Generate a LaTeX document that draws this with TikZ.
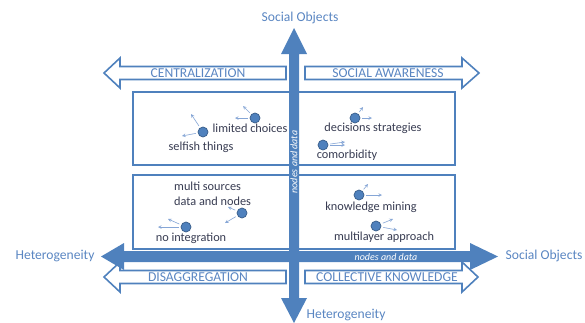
\documentclass[tikz,border=0pt]{standalone}
\usepackage{fontspec}
\setmainfont{Carlito}
\usetikzlibrary{calc}
\definecolor{axisblue}{HTML}{4F81BD}
\definecolor{dotline}{HTML}{385D8A}
\definecolor{labelblue}{HTML}{5A86C2}
\definecolor{itemtext}{HTML}{383C52}
\definecolor{thinblue}{HTML}{86A6D6}
% hollow arrow: (tail x, tip x, head base x, centre y)
\def\hollowarrow(#1,#2,#3,#4){\draw[hollow] (#1,#4-6.5) -- (#3,#4-6.5) -- (#3,#4-15) -- (#2,#4) -- (#3,#4+15) -- (#3,#4+6.5) -- (#1,#4+6.5) -- cycle;}
\tikzset{
  hollow/.style={draw=axisblue, line width=1.6pt, fill=white, line join=miter},
  quadbox/.style={draw=axisblue, line width=1.4pt, fill=white},
  bigarrow/.style={fill=axisblue, draw=none},
  axislabel/.style={text=labelblue, font=\fontsize{13.6}{15}\selectfont, inner sep=0pt},
  caplabel/.style={text=labelblue, font=\fontsize{13.6}{15}\selectfont, inner sep=0pt},
  itemlabel/.style={text=itemtext, font=\fontsize{12.3}{14}\selectfont, inner sep=0pt},
  flowlabel/.style={text=white, font=\fontsize{10}{12}\selectfont\itshape, inner sep=0pt},
  socialdot/.style={circle, fill=axisblue, draw=dotline, line width=0.7pt, minimum size=10pt, inner sep=0pt},
  pull/.style={->, >=stealth, draw=thinblue, line width=0.6pt, shorten <=2pt}
}

\begin{document}
\begin{tikzpicture}[x=1pt, y=-1pt]
			%%%%% START %%%%%
			\useasboundingbox (0,0) rectangle (585,322);
			
			\draw[quadbox] (133, 92) rectangle (455, 165);
			\draw[quadbox] (133, 175) rectangle (455, 249);
			
			\hollowarrow(286,104,120,73)
			\hollowarrow(305,479,462,73)
			\hollowarrow(286,104,120,277)
			\hollowarrow(305,478,462,277)
			
			\fill[bigarrow] (124, 251) -- (470, 251) -- (470, 243) -- (498, 256.5) -- (470, 270) -- (470, 262) -- (124, 262) -- (124, 270) -- (101, 256.5) -- (124, 243) -- cycle;
			\fill[bigarrow] (289, 54) -- (289, 298) -- (281, 298) -- (294, 323) -- (307, 298) -- (299, 298) -- (299, 54) -- (307, 54) -- (294, 28) -- (281, 54) -- cycle;
			
			\node[axislabel] (topobj) at (300, 18) {Social Objects};
			\node[axislabel] (lefthet) at (55, 256) {Heterogeneity};
			\node[axislabel] (rightobj) at (544, 256) {Social Objects};
			\node[axislabel] (bothet) at (346, 315) {Heterogeneity};
			
			\node[caplabel] (central) at (198, 73) {CENTRALIZATION};
			\node[caplabel] (aware) at (388, 73) {SOCIAL AWARENESS};
			\node[caplabel] (disagg) at (198, 277) {DISAGGREGATION};
			\node[caplabel] (collect) at (387, 277) {COLLECTIVE KNOWLEDGE};
			
			\node[flowlabel] (hflow) at (386, 257) {nodes and data};
			\node[flowlabel, rotate=90] (vflow) at (294, 162) {nodes and data};
			
			% top left
			\node[itemlabel] (limited) at (250, 128) {limited choices};
			\node[itemlabel] (selfish) at (201, 147) {selfish things};
			\node[socialdot] (d1) at (255, 118) {};
			\node[socialdot] (d2) at (203, 132) {};
			\draw[pull] (d1) -- (235, 118);
			\draw[pull] (d1) -- (243, 106);
			\draw[pull] (d2) -- (191, 114);
			\draw[pull] (d2) -- (182, 136);
			
			% top right
			\node[itemlabel] (decide) at (373, 128) {decisions strategies};
			\node[itemlabel] (comorb) at (347, 155) {comorbidity};
			\node[socialdot] (d3) at (355, 118) {};
			\node[socialdot] (d4) at (323, 145) {};
			\draw[pull] (d3) -- (363, 107);
			\draw[pull] (d3) -- (372, 118);
			\draw[pull] (d4) -- (345, 145);
			\draw[pull] (d4) -- (345, 142);
			
			% bottom left
			\node[itemlabel, anchor=west] (multi) at (174, 186) {multi sources};
			\node[itemlabel, anchor=west] (datanodes) at (174, 201) {data and nodes};
			\node[itemlabel] (nointeg) at (191, 238) {no integration};
			\node[socialdot] (d5) at (242, 213) {};
			\node[socialdot] (d6) at (186, 227) {};
			\draw[pull] (d5) -- (228, 207);
			\draw[pull] (d5) -- (225, 223);
			\draw[pull] (d6) -- (168, 219);
			\draw[pull] (d6) -- (158, 227);
			
			% bottom right
			\node[itemlabel] (mining) at (371, 207) {knowledge mining};
			\node[itemlabel] (layer) at (384, 237) {multilayer approach};
			\node[socialdot] (d7) at (359, 195) {};
			\node[socialdot] (d8) at (376, 226) {};
			\draw[pull] (d7) -- (368, 184);
			\draw[pull] (d7) -- (382, 195);
			\draw[pull] (d8) -- (393, 219);
			\draw[pull] (d8) -- (397, 230);
			
			%%%%% END %%%%%
\end{tikzpicture}
\end{document}
